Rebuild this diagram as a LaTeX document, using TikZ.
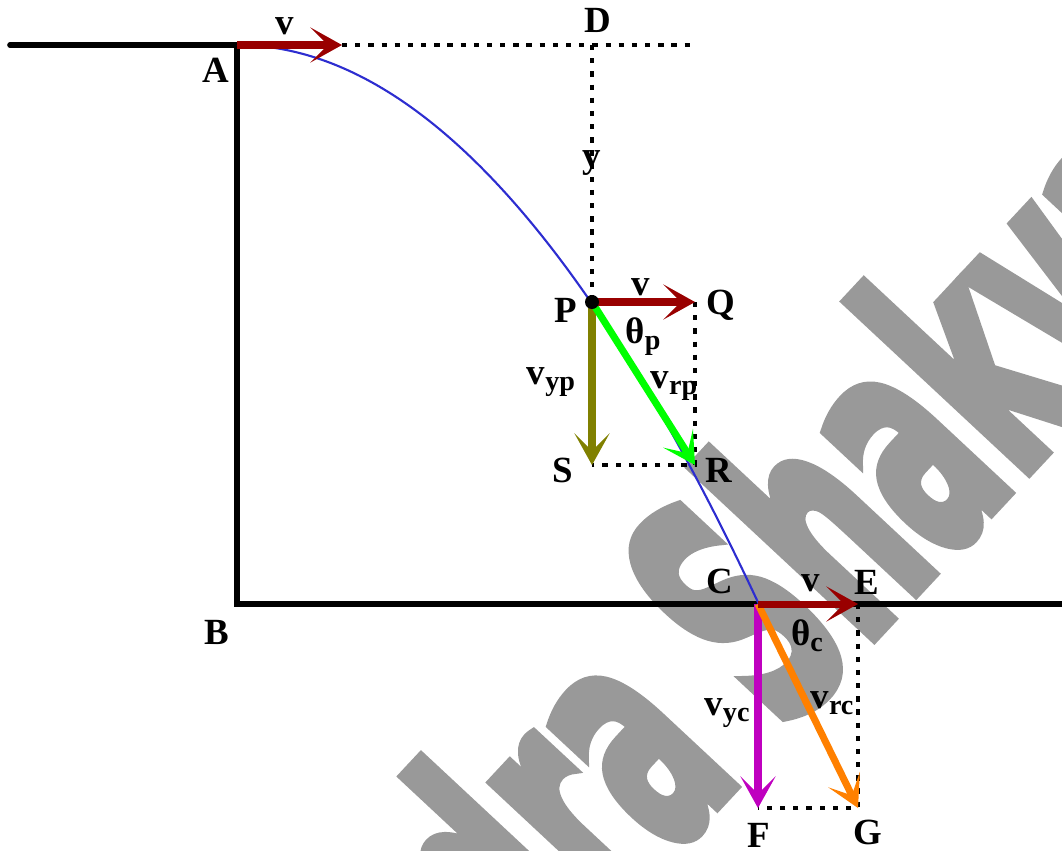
\documentclass[tikz,border=0pt]{standalone}
\usepackage{fontspec}
\setmainfont{Liberation Serif}
\newfontfamily\wmfont{DejaVu Sans Condensed Bold}[FakeBold=4]
\usetikzlibrary{arrows.meta}
\definecolor{vred}{HTML}{990000}
\definecolor{volive}{HTML}{808000}
\definecolor{vgreen}{HTML}{00FF00}
\definecolor{vmag}{HTML}{BF00BF}
\definecolor{vorange}{HTML}{FF8000}
\definecolor{vblue}{HTML}{2D2DD0}
\definecolor{wmgray}{HTML}{999999}
\newcommand{\sbs}[1]{\raisebox{-0.35ex}{\fontsize{16}{16}\selectfont #1}}
\tikzset{
  ground/.style={line width=3.2pt, line cap=round},
  vec/.style={line width=4pt, -{Stealth[length=18pt,width=20pt,inset=10pt]}},
  guide/.style={line width=2.2pt, dash pattern=on 3pt off 4.5pt},
  lbl/.style={font=\fontsize{21}{24}\selectfont\bfseries, inner sep=0pt},
}
\begin{document}
\begin{tikzpicture}[x=0.02cm,y=-0.02cm]
\useasboundingbox (0,0) rectangle (1062,850);
\begin{scope}
\clip (0,0) rectangle (1062,850);
\node[rotate=47, xscale=0.56, text=wmgray, font=\wmfont\fontsize{185}{185}\selectfont, anchor=center, inner sep=0pt] (wm) at (822,562) {dra Shakya};
\end{scope}
% points
\coordinate (L) at (10,45);
\coordinate (A) at (237,45);
\coordinate (B) at (237,604);
\coordinate (Rt) at (1062,604);
\coordinate (V0) at (342,45);
\coordinate (D) at (695,45);
\coordinate (Dx) at (592,45);
\coordinate (P) at (592,302);
\coordinate (Q) at (695,302);
\coordinate (S) at (592,465);
\coordinate (R) at (695,465);
\coordinate (C) at (758,604);
\coordinate (E) at (858,604);
\coordinate (F) at (758,808);
\coordinate (G) at (858,808);
% ground
\draw[ground] (L) -- (A) -- (B) -- (Rt);
% trajectory
\draw[vblue, line width=1.2pt, domain=0:521.8, samples=80, smooth] plot ({237+\x},{45+(\x/22.07)*(\x/22.07)});
% guides
\draw[guide] (V0) -- (D);
\draw[guide] (Dx) -- (P);
\draw[guide] (Q) -- (R) -- (S);
\draw[guide] (E) -- (G) -- (F);
% vectors
\draw[vec, vred] (A) -- (V0);
\draw[vec, volive] (P) -- (S);
\draw[vec, vgreen] (P) -- (R);
\draw[vec, vred] (P) -- (Q);
\draw[vec, vmag] (C) -- (F);
\draw[vec, vorange] (C) -- (G);
\draw[vec, vred] (C) -- (E);
\fill (P) circle (7);
% labels
\node[lbl] (lA) at (216,70) {A};
\node[lbl] (lB) at (217,632) {B};
\node[lbl] (lD) at (598,20) {D};
\node[lbl] (lv1) at (285,26) {v};
\node[lbl] (ly) at (592,163) {y};
\node[lbl] (lP) at (566,310) {P};
\node[lbl] (lQ) at (721,305) {Q};
\node[lbl] (lv2) at (641,287) {v};
\node[lbl] (lthp) at (643,337) {θ\sbs{p}};
\node[lbl] (lvyp) at (551,382) {v\sbs{yp}};
\node[lbl] (lvrp) at (674,386) {v\sbs{rp}};
\node[lbl] (lS) at (563,470) {S};
\node[lbl] (lR) at (719,470) {R};
\node[lbl] (lC) at (720,581) {C};
\node[lbl] (lE) at (867,582) {E};
\node[lbl] (lv3) at (811,583) {v};
\node[lbl] (lthc) at (807,636) {θ\sbs{c}};
\node[lbl] (lvyc) at (727,713) {v\sbs{yc}};
\node[lbl] (lvrc) at (832,703) {v\sbs{rc}};
\node[lbl] (lF) at (759,835) {F};
\node[lbl] (lG) at (868,832) {G};
\end{tikzpicture}
\end{document}
